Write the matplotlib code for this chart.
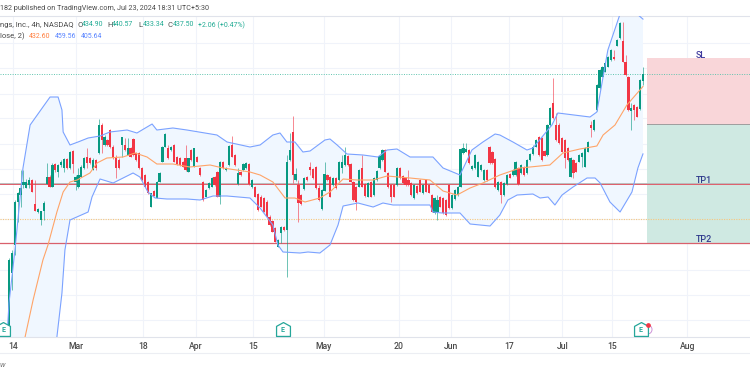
import numpy as np
import matplotlib.pyplot as plt
from matplotlib.path import Path

plt.rcParams["font.family"] = ["Roboto", "DejaVu Sans"]

# =========================
# DATA
# =========================
opens = [320,358,369.2,386.5,389.2,393.2,391.9,393.2,395.2,385.6,382.3,379.2,382.8,393.5,396.5,392.5,401.5,398.5,401.2,399.9,
403.5,399.9,406.8,394.5,392.5,396.5,399.9,404.5,403.9,399.2,403.2,405.9,417.2,409.2,411.2,415.2,408.5,404.5,403.2,409.2,
409.2,405.2,407.9,411.6,405.9,405.9,399.9,397.2,394.5,384.5,390.8,388.1,394.5,402.5,408.5,407.9,407.2,409.2,404.5,403.9,
402.5,404,398.5,407.2,400.5,404.5,399.9,394.5,388.5,391.9,392.5,396.5,398.5,388.5,402.5,399.2,401.2,409.2,405.2,393.5,
398.5,399.2,399.9,401.5,392.3,392.3,389.5,388.5,387.9,386.5,380.5,378.9,375.9,368.5,373.9,376.5,375,403.2,414.3,395.2,
393.2,389.2,391.5,396.3,400.5,399.5,400.5,391.9,383.5,390.9,397.2,396.5,393.2,395.9,395.2,399.9,401.2,404.8,401.6,394.5,
392.5,392.5,400.1,393.6,388.5,394.5,389.2,395.2,399.9,403.2,407.2,397.9,393.2,393.2,393.2,399.9,396.8,395.9,395.2,393.9,
387.9,392.8,395.2,389.9,395.2,393.2,389.2,381.9,382.5,388.3,387.9,387.2,393.2,383.9,387.5,389.2,392.5,405.9,406.5,407.2,
399.5,399.9,396.5,399.2,395.2,399.2,408.5,406.5,403.5,391.2,394.5,389.2,393.5,397.5,397.2,397.2,399.9,397.9,400.5,397.9,
403.2,405.5,408.5,412.5,411.9,406.8,405.2,417.2,425.9,417.2,417.2,411.9,411.2,407.9,396.5,403.2,401.9,402.5,404.5,400.5,
406.5,417.2,415.2,423.2,431.9,436.5,438.5,440.5,443.2,444.5,448.9,451.9,450.8,442.5,436.5,422.9,425.2,424.3,423.5,434.90]
highs = [364,367,387,390.5,399.2,399.2,395.5,396.5,395.5,395.2,383.9,382.8,386.8,401.9,397.2,401.9,401.9,401.5,403,403.9,
404,406.8,407.2,397.2,399.9,401,404.4,407.9,404.4,403.9,403.6,419.5,418,413,411.6,415.6,409,405,404,412.5,
411.9,411.9,408.3,412,406.3,406.3,400.3,397.6,394.9,389.9,391.2,394.8,398.2,408.8,413.8,409.2,408.8,409.6,404.9,404.3,
402.9,409.2,403.9,407.6,407.9,404.9,400.3,394.9,391.5,394.2,396.2,396.9,398.9,402.8,402.9,400.2,409.2,412.9,405.5,399.9,
398.9,401.8,402.2,401.9,395.5,392.7,390,389,388.3,387,381,379.3,376.3,371.5,376.8,376.9,405.2,413.9,420.8,399.9,
395.2,389.6,396.2,396.7,402.5,399.9,400.9,393.2,391.5,402.5,397.6,396.9,396.2,396.3,402.6,405.2,408.3,405.2,402,394.9,
392.9,399.5,405.2,394,394.4,394.9,396.2,399.2,405.1,407.6,407.6,398.3,393.6,393.6,400.2,400.3,397.2,396.3,399.2,394.3,
393.5,393.2,395.6,393.5,395.6,393.6,389.6,388.2,389.2,388.7,388.3,387.6,393.6,389.5,391.5,392.8,407.8,409.9,409.9,407.6,
401.1,405.5,402.8,401.5,399.5,399.6,408.9,406.9,403.9,394.6,394.9,394.2,397.5,397.9,399.5,402.8,400.3,401.5,400.9,403.5,
405.8,409,411.5,412.9,412.3,407.2,417.5,424.2,435.9,421.9,418,412.3,411.6,408.3,404.2,403.6,402.3,405.5,406.2,408.2,
410.8,418.9,419.5,433.5,439.5,440.8,442.2,444.8,447.5,447.2,451.5,458.2,458.5,445.2,436.9,426,425.6,424.7,435.5,440.57]
lows = [318,351,365,378.5,384.5,391.9,391.9,391.9,390.2,382.8,381.9,377.2,379.2,393.5,392.3,392.3,398.5,396.5,400.5,398.5,
399.5,399.5,397.9,391.2,391.9,396.2,399.5,399.9,401.4,399,399.2,405.5,405.9,408.8,408.8,408,403.5,396.1,399.5,404.5,
406.8,405,404.2,404.9,402.9,399.5,394.9,392.2,389.6,384.2,388.6,387.8,394.2,402.2,408.2,403.6,406.9,402.2,401.2,400.9,
400.2,398.9,398.2,402.9,400.2,402.2,396.9,386.9,388.2,391.6,392.2,392.9,388.2,385.5,399.6,398.9,400.9,404.2,400.9,393.2,
396.9,398.9,399.6,393.2,392,388.2,382.9,384.2,382.2,380.2,376.9,374.2,370.2,368.2,369.9,374.9,356.5,402.9,393.9,394.9,
378.5,385.3,391.2,394.9,397.2,395.6,391.6,386.9,383.2,390.6,394.9,388.2,392.9,391.6,394.9,397.9,400.9,400.9,394.2,386.9,
383.2,392.2,392.2,388.5,388.2,388.2,388.9,394.9,399.6,402.9,398.2,392,386.5,388.2,392.9,395.6,393.6,392.9,392.9,388.9,
387.6,389.6,390.2,389.6,390.2,389.8,382.2,381.6,379.2,384.2,381.6,380.9,383.6,383.6,387.2,388.9,392.2,405.6,406.2,401.6,
399.2,399.6,396.2,398.9,394.9,394.9,401.6,401.6,392,390.9,385.9,388.9,393.2,395.8,396.9,396.9,393.2,397.6,396.9,397.6,
402.9,405.2,408.2,404.9,402.9,404.6,404.9,416.9,419.6,410.9,409.6,406.2,400.1,402.9,396.2,396.1,398.2,402.2,400.5,400.2,
406.2,412.5,414.9,422.9,431.6,436.2,438.2,440.2,442.9,443.2,448.6,451.6,442.2,436.9,422.9,415.2,419.2,420.2,423.2,433.34]
closes = [363,366,386.5,389.9,391.9,394.5,394.5,395.2,390.5,382.8,383.6,382.8,385.9,396.5,392.5,401.2,399.2,401.2,402.5,403.5,
399.9,406.3,401.5,396.5,397.2,400.5,403.9,401.9,401.9,403.2,399.9,417.2,411.2,412.5,409.2,408.5,403.9,399.9,399.9,412.5,
407.2,407.9,404.5,405.2,403.2,399.9,395.2,392.5,389.9,389.9,388.9,394.5,397.9,408.5,413.5,403.9,408.5,402.5,401.5,401.2,
400.5,399.2,403.9,403.2,407.9,402.5,397.2,387.2,391.2,393.9,395.9,393.2,388.5,402.5,399.9,399.9,408.9,404.5,401.2,397.9,
397.2,401.5,401.9,393.5,395.2,388.5,383.2,384.5,382.5,380.5,377.2,374.5,370.5,371.2,376.5,375.2,402.5,407.2,397.2,397.6,
385.9,385.6,395.9,395.2,399.2,395.9,391.9,387.2,391.2,397.6,395.2,388.5,395.9,391.9,402.3,402.5,405.2,401.2,394.5,387.2,
386.5,399.2,392.5,388.8,394.1,388.5,395.9,398.9,404.8,407.2,398.5,392.3,388.5,388.5,399.9,395.9,393.9,393.2,393.2,389.2,
393.2,389.9,390.5,393.2,390.5,390.1,382.5,387.9,387,384.5,381.9,381.2,383.9,389.2,391.2,392.5,407.5,407.9,407.5,401.9,
400.8,405.2,402.5,401.2,399.2,395.2,401.9,401.9,392.3,394.3,389.2,393.9,397.2,396.1,399.2,402.5,393.5,401.2,397.2,403.2,
405.5,408.5,411.2,405.2,403.2,404.9,417.2,423.9,419.9,411.2,409.9,406.5,403.9,403.2,403.9,397.9,398.5,405.2,405.9,407.9,
410.5,415.9,419.2,433.2,439.2,440.5,441.9,444.5,447.2,443.5,451.2,457.9,442.5,437.2,423.2,423.9,423.2,420.5,435.2,437.50]

upper_x = [-1.3,0,2,4.7,7.1,11.4,13.8,16.5,17.8,18.2,20.5,23.2,26.6,30.6,33.9,39.7,43,46.4,48.1,49.7,55.1,59.8,69.9,73.3,81,84.4,88.7,91.1,93.4,96.1,98.8,101.2,106.2,107.9,110.3,113.6,119,124,127.1,130.4,134.8,142.5,145.9,151.6,155.6,159.3,163.4,165,169.4,174.1,176.1,182.5,184.5,195.3,197.6,201.3,205.4,211.1,213.1]
upper_y = [319.2,346,367.2,400,417.2,424.4,428.4,428.4,423.2,414.4,409.2,410.4,412,412.8,414.4,415.2,414,416.4,417.6,415.2,416,415.2,413.2,410.4,408.4,409.2,413.2,414,410.4,410.4,406.4,406.8,411.2,411.6,409.2,405.6,405.2,404.4,407.2,407.6,404.4,404.4,400,397.2,407.2,410.4,413.6,413.2,410.4,407.2,408,417.2,422,420.4,422.4,447.2,461.6,461.6,459.56]
lower_x = [13.8,16.1,17.8,18.8,20.5,26.6,27.9,30.6,35,41.7,44,46.7,49.1,53.1,59.8,64.2,68.6,73.3,81,84.4,88.7,90.4,92.1,97.8,100.5,104.5,107.9,110.6,112.3,117.3,122.4,125.7,129.1,141.5,142.5,145.5,151.6,155,161.7,165,167.7,170.8,176.1,178.5,181.2,183.5,185.9,189.6,194.3,197,198.7,202,205.4,209.4,211.4,213.1]
lower_y = [307.2,332.4,350,367.2,379.2,382.4,388.4,395.6,394,398,396.4,390.4,388,387.6,387.6,387.2,388.8,388.8,388,384,377.2,369.2,366.4,366,366.4,366,369.2,377.2,384.8,386,384.4,386,385.2,385.2,382.4,382,382,377.6,376.8,381.2,387.2,389.2,389.6,388,388.4,385.2,389.2,392.4,396,396,394,386.4,382.4,390.4,400,405.64]
basis_x = [5.4,8.1,11.4,13.1,16.1,18.2,20.5,22.9,27.2,29.6,32.9,38.3,42.4,46.4,49.7,55.1,60.8,67.6,71.9,81,84.4,88.7,92.8,96.1,99.5,104.5,107.9,112.3,117,122.4,127.1,134.8,141.5,145.9,150.6,155,159.3,165,171.8,181.8,186.2,191.9,197.6,199.7,203.7,207.7,213.1]
basis_y = [332.4,347.2,363.2,369.2,382.4,390.4,394.4,395.2,398,402,404,404.4,406,404.4,401.6,401.6,400.4,401.2,400,398.4,397.2,394.4,388,388,386.4,388,390.4,395.6,395.2,395.2,396.8,396,395.2,390.8,389.2,392,394,397.2,400,401.2,406,407.6,408.8,413.2,417.2,425.2,432.6]

tick_labels = ["14", "Mar", "18", "Apr", "15", "May", "20", "Jun", "17", "Jul", "15", "Aug"]
tick_pos = [1.3, 22.5, 45, 62.7, 82, 105.9, 131, 148.5, 168, 186, 202.7, 228]
grid_prices = [450, 440, 429.6, 420, 409.6, 399.6, 389.6, 379.6, 369.8, 359.2, 349.2, 339.2]

last_price = 437.50
sl_top, entry_price, tp1_price, orange_price, tp2_price = 444, 417.4, 393.5, 379.5, 369.9
earnings_x = [-1.9, 92.1, 212.4]

GREEN = "#089981"
RED = "#f23645"
BAND = "#7ba2ff"
BOX_LEFT = 214.3

# =========================
# FIGURE
# =========================
fig = plt.figure(figsize=(7.5, 3.75), dpi=100)
ax = fig.add_axes([0, 38 / 375, 1, 321 / 375])
ax.set_xlim(-3.025, 249.08)
ax.set_ylim(332.4, 460.8)

ax.set_xticks(tick_pos)
ax.set_xticklabels(tick_labels, fontsize=6.2, color="#4a4a4a", fontweight="medium")
ax.set_yticks(grid_prices)
ax.set_yticklabels([])
ax.tick_params(length=0, pad=3.5)
ax.grid(True, color="#f0f3fa", lw=0.8)
ax.set_axisbelow(True)
for side in ["left", "right"]:
    ax.spines[side].set_visible(False)
for side in ["top", "bottom"]:
    ax.spines[side].set_color("#e0e3eb")
    ax.spines[side].set_linewidth(0.8)

# =========================
# BOLLINGER
# =========================
ax.fill(upper_x + lower_x[::-1], upper_y + lower_y[::-1], color="#f0f7ff", lw=0, zorder=1)
ax.plot(upper_x, upper_y, color=BAND, lw=0.8, zorder=4, solid_joinstyle="round")
ax.plot(lower_x, lower_y, color=BAND, lw=0.8, zorder=4, solid_joinstyle="round")
ax.plot(basis_x, basis_y, color="#ffa468", lw=0.8, zorder=4, solid_joinstyle="round")

# =========================
# TARGET BOXES AND LEVELS
# =========================
ax.axvspan(BOX_LEFT, 249.08, ymin=(entry_price - 332.4) / 128.4, ymax=(sl_top - 332.4) / 128.4, color="#f9d6d9", lw=0, zorder=1.5)
ax.axvspan(BOX_LEFT, 249.08, ymin=(tp2_price - 332.4) / 128.4, ymax=(entry_price - 332.4) / 128.4, color="#cfe9e2", lw=0, zorder=1.5)
ax.plot([BOX_LEFT, 249.08], [entry_price, entry_price], color="#9e9e9e", lw=0.7, zorder=2)

ax.axhline(last_price, color="#5fc4ae", lw=0.7, ls=(0, (1, 1.5)), zorder=2)
ax.axhline(tp1_price, color="#b8b8b8", lw=1.3, zorder=2)
ax.axhline(tp1_price, color="#e0606c", lw=0.7, zorder=2.1)
ax.axhline(orange_price, color="#f7c77e", lw=0.8, ls=(0, (1, 1.2)), zorder=2)
ax.axhline(tp2_price, color="#d9606c", lw=0.9, zorder=2)

ax.text(232.6, 444.8, "SL", color="#3f3a9e", fontsize=6.5, ha="center", va="center", fontweight="medium")
ax.text(233.6, 394.8, "TP1", color="#2f3a8c", fontsize=6.5, ha="center", va="center", fontweight="medium")
ax.text(233.6, 371.5, "TP2", color="#2f3a8c", fontsize=6.5, ha="center", va="center", fontweight="medium")

# =========================
# CANDLES
# =========================
bar_x = np.linspace(0, 213.1, len(opens))
for x, o, h, l, c in zip(bar_x, opens, highs, lows, closes):
    warna = GREEN if c >= o else RED
    ax.plot([x, x], [l, h], color=warna, lw=0.55, alpha=0.75, zorder=3, solid_capstyle="butt")
    ax.bar(x, abs(c - o), bottom=min(o, c), width=0.75, color=warna, lw=0, zorder=3.2)

# =========================
# EARNINGS MARKERS
# =========================
house = Path([(-1, -1), (-1, 0.45), (0, 1), (1, 0.45), (1, -1), (-1, -1)], closed=True)
ax.plot(earnings_x[2] + 2.2, 335.6, ls="", marker="o", ms=6.5, mfc="none", mec="#ce93d8", mew=0.7, zorder=4.5)
ax.plot(earnings_x, [335.6] * 3, ls="", marker=house, ms=10, mfc="white", mec="#26a69a", mew=0.9, zorder=5, clip_on=False)
for x in earnings_x:
    ax.text(x, 335.3, "E", color="#26a69a", fontsize=5, ha="center", va="center", zorder=6, fontweight="bold")
ax.plot(earnings_x[2] + 2.4, 337.2, ls="", marker="o", ms=2.4, color="#f23645", zorder=6)

# =========================
# HEADER TEXT
# =========================
dark = "#4a4a4a"
teal = "#22ab94"
size = 5.5
num_size = 5.05
fig.text(0 / 750, 1 - 9 / 375, "182 published on TradingView.com, Jul 23, 2024 18:31 UTC+5:30", fontsize=5.2, color=dark, va="center")
fig.text(0 / 750, 1 - 25 / 375, "ngs, Inc., 4h, NASDAQ", fontsize=size, color=dark, va="center")
for px, label, value in [(77, "O", "434.90"), (107, "H", "440.57"), (138, "L", "433.34"), (168, "C", "437.50")]:
    fig.text(px / 750, 1 - 25 / 375, label, fontsize=size, color=dark, va="center")
    fig.text((px + 5) / 750, 1 - 25 / 375, value, fontsize=num_size, color=teal, va="center")
fig.text(198 / 750, 1 - 25 / 375, "+2.06 (+0.47%)", fontsize=num_size, color=teal, va="center")
fig.text(0 / 750, 1 - 36 / 375, "lose, 2)", fontsize=size, color=dark, va="center")
fig.text(29 / 750, 1 - 36 / 375, "432.60", fontsize=num_size, color="#ff7f3f", va="center")
fig.text(55 / 750, 1 - 36 / 375, "459.56", fontsize=num_size, color="#5b86ff", va="center")
fig.text(81 / 750, 1 - 36 / 375, "405.64", fontsize=num_size, color="#5b86ff", va="center")
fig.text(0 / 750, 1 - 365 / 375, "w", fontsize=size, color="#777777", va="center", style="italic")

fig.add_artist(plt.Line2D([0, 1], [1 - 353 / 375] * 2, color="#eceef3", lw=0.8))

plt.savefig("out.png", dpi=100)
